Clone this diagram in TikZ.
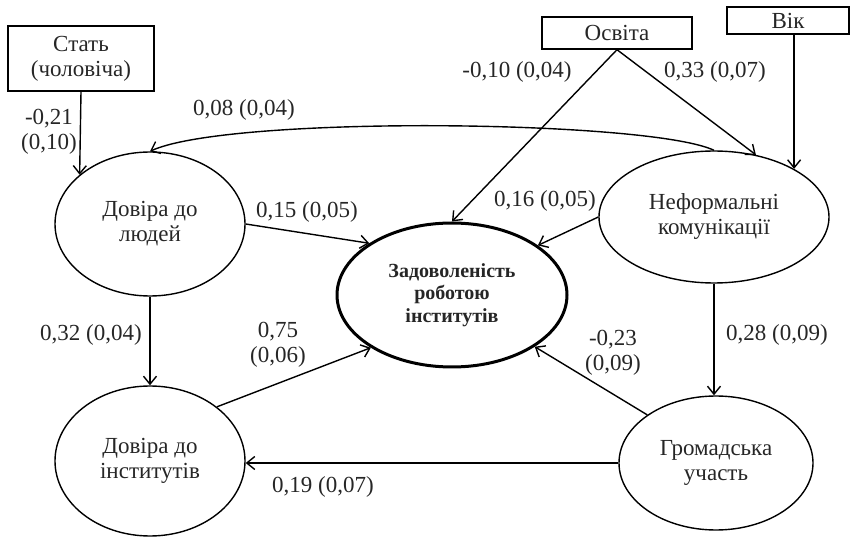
\documentclass[tikz,border=0pt]{standalone}
\usepackage{fontspec}
\setmainfont{Liberation Serif}
\usetikzlibrary{shapes.geometric,arrows.meta}
\begin{document}
\begin{tikzpicture}[x=1pt,y=-1pt,
  every node/.style={font=\fontsize{23pt}{25pt}\selectfont, text=black!85},
  boxnode/.style={draw, rectangle, line width=1.4pt, inner sep=0pt, align=center},
  ellnode/.style={draw, ellipse, line width=1.4pt, inner sep=0pt, align=center},
  lbl/.style={inner sep=0pt, align=center},
  arr/.style={line width=1.4pt, -{Straight Barb[length=8pt,width=13pt,line width=1.4pt]}}
]
\path[use as bounding box] (0,0) rectangle (855,537);

% boxes
\node[boxnode, minimum width=146pt, minimum height=65pt] (sex) at (81,58.5) {Стать\\(чоловіча)};
\node[boxnode, minimum width=150pt, minimum height=32pt] (osv) at (617,33) {Освіта};
\node[boxnode, minimum width=122pt, minimum height=27pt] (vik) at (788,20.5) {Вік};

% ellipses
\node[ellnode, minimum width=190pt, minimum height=144pt] (lud) at (150,224) {Довіра до\\людей};
\node[ellnode, minimum width=190pt, minimum height=150pt] (inst) at (150,461) {Довіра до\\інститутів};
\node[ellnode, line width=3pt, minimum width=230pt, minimum height=144pt,
      font=\fontsize{20pt}{22.5pt}\selectfont\bfseries] (sat) at (452,295) {Задоволеність\\роботою\\інститутів};
\node[ellnode, minimum width=230pt, minimum height=132pt] (nef) at (714,217) {Неформальні\\комунікації};
\node[ellnode, minimum width=194pt, minimum height=134pt] (gro) at (716,463) {Громадська\\участь};

% connectors
\draw[arr] (sex.south) -- (lud.145);
\draw[arr] (lud.east) -- (sat.148);
\draw[arr] (osv.south) -- (sat.north);
\draw[arr] (osv.south) -- (nef.56);
\draw[arr] (nef.31 |- vik.south) -- (nef.31);
\draw[arr] (nef.north) .. controls (650,120) and (230,115) .. (lud.north);
\draw[arr] (nef.west) -- (sat.30);
\draw[arr] (lud.south) -- (inst.north);
\draw[arr] (inst.39) -- (sat.213);
\draw[arr] (gro.145) -- (sat.-32);
\draw[arr] (nef.south) -- (nef.south |- gro.north);
\draw[arr] (gro.west) -- (gro.west -| inst.east);

% labels
\node[lbl] (l1) at (49,132) {-0,21\\(0,10)};
\node[lbl] (l2) at (244,110) {0,08 (0,04)};
\node[lbl] (l3) at (307,212) {0,15 (0,05)};
\node[lbl] (l4) at (517,72) {-0,10 (0,04)};
\node[lbl] (l5) at (715,72) {0,33 (0,07)};
\node[lbl] (l6) at (545,201) {0,16 (0,05)};
\node[lbl] (l7) at (91,335) {0,32 (0,04)};
\node[lbl] (l8) at (278,345) {0,75\\(0,06)};
\node[lbl] (l9) at (613,353) {-0,23\\(0,09)};
\node[lbl] (l10) at (777,335) {0,28 (0,09)};
\node[lbl] (l11) at (323,487) {0,19 (0,07)};
\end{tikzpicture}
\end{document}
